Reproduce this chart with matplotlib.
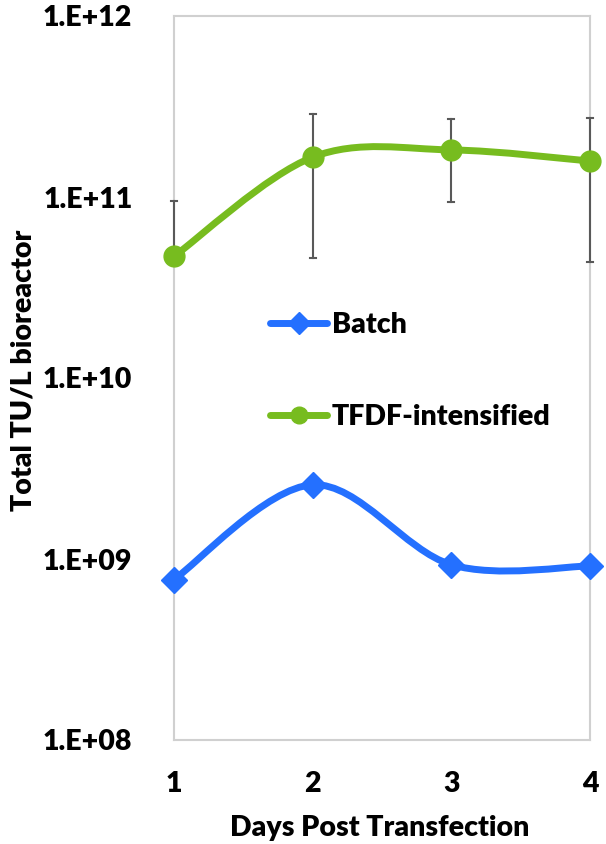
import numpy as np
import matplotlib.pyplot as plt
from matplotlib.path import Path
from matplotlib.patches import PathPatch
from matplotlib.lines import Line2D

plt.rcParams['font.family'] = ['Lato', 'DejaVu Sans']
plt.rcParams['font.weight'] = 'heavy'

days = [1, 2, 3, 4]
batch = [7.7e8, 2.57e9, 9.3e8, 9.15e8]
tfdf = [4.7e10, 1.66e11, 1.82e11, 1.58e11]
tfdf_err_low = [0.0, 4.6e10, 9.4e10, 4.35e10]
tfdf_err_high = [9.5e10, 2.87e11, 2.69e11, 2.73e11]
ytick_vals = [1e8, 1e9, 1e10, 1e11, 1e12]
ytick_labels = ['1.E+08', '1.E+09', '1.E+10', '1.E+11', '1.E+12']

GREEN = '#77BC1F'
BLUE = '#2470FF'
FS = 20.5


def smooth_path(x, y):
	"""Excel-style smoothed line as cubic Bezier segments, computed in log-y space."""
	lx = np.asarray(x, float)
	ly = np.log10(np.asarray(y, float))
	n = len(lx)
	verts = [(lx[0], 10 ** ly[0])]
	codes = [Path.MOVETO]
	for i in range(n - 1):
		p0 = max(i - 1, 0)
		p3 = min(i + 2, n - 1)
		c1x = lx[i] + (lx[i + 1] - lx[p0]) / 6
		c1y = ly[i] + (ly[i + 1] - ly[p0]) / 6
		c2x = lx[i + 1] - (lx[p3] - lx[i]) / 6
		c2y = ly[i + 1] - (ly[p3] - ly[i]) / 6
		verts += [(c1x, 10 ** c1y), (c2x, 10 ** c2y), (lx[i + 1], 10 ** ly[i + 1])]
		codes += [Path.CURVE4] * 3
	return Path(verts, codes)


fig = plt.figure(figsize=(6.06, 8.44), dpi=100)
ax = fig.add_axes([174 / 606, 1 - 740 / 844, 416 / 606, 724 / 844])
ax.set_yscale('log')
ax.set_xlim(1, 4)
ax.set_ylim(1e8, 1e12)

# error bars (TFDF only), drawn above the frame so the day-4 bar shows
ebar = dict(color='#595959', lw=1.5, clip_on=False, zorder=2.7)
for i, d in enumerate(days):
	ax.plot([d, d], [tfdf[i], tfdf_err_high[i]], **ebar)
	ax.plot([d - 0.022, d + 0.022], [tfdf_err_high[i]] * 2, **ebar)
	if tfdf_err_low[i] > 0:
		ax.plot([d, d], [tfdf[i], tfdf_err_low[i]], **ebar)
		ax.plot([d - 0.022, d + 0.022], [tfdf_err_low[i]] * 2, **ebar)

for vals, color, marker, ms in [(batch, BLUE, 'D', 13), (tfdf, GREEN, 'o', 15)]:
	ax.add_patch(PathPatch(smooth_path(days, vals), facecolor='none', edgecolor=color,
		lw=5, capstyle='round', joinstyle='round', zorder=3))
	ax.plot(days, vals, linestyle='none', marker=marker, markersize=ms, color=color,
		clip_on=False, zorder=4)

ax.set_yticks(ytick_vals)
ax.set_yticklabels(ytick_labels)
ax.yaxis.set_minor_locator(plt.NullLocator())
ax.set_xticks(days)
ax.tick_params(length=0, labelsize=FS)
ax.tick_params(axis='y', pad=30)
ax.tick_params(axis='x', pad=22)
for s in ax.spines.values():
	s.set_color('#D0D0D0')
	s.set_linewidth(1.5)

# axis titles placed directly in figure pixels
fig.text(380 / 606, 1 - 828 / 844, 'Days Post Transfection', fontsize=FS, fontweight='heavy',
	ha='center', va='center')
fig.text(24 / 606, 1 - 370 / 844, 'Total TU/L bioreactor', fontsize=FS, fontweight='heavy',
	ha='center', va='center', rotation=90)

handles = [
	Line2D([], [], color=BLUE, lw=5, marker='D', markersize=11, solid_capstyle='round'),
	Line2D([], [], color=GREEN, lw=5, marker='o', markersize=12, solid_capstyle='round'),
]
ax.legend(handles, ['Batch', 'TFDF-intensified'], loc='upper left', bbox_to_anchor=(0.17, 0.626),
	frameon=False, handlelength=2.0, handletextpad=0.15, labelspacing=2.3,
	prop={'weight': 'heavy', 'size': FS})

fig.savefig('out.png', dpi=100)
